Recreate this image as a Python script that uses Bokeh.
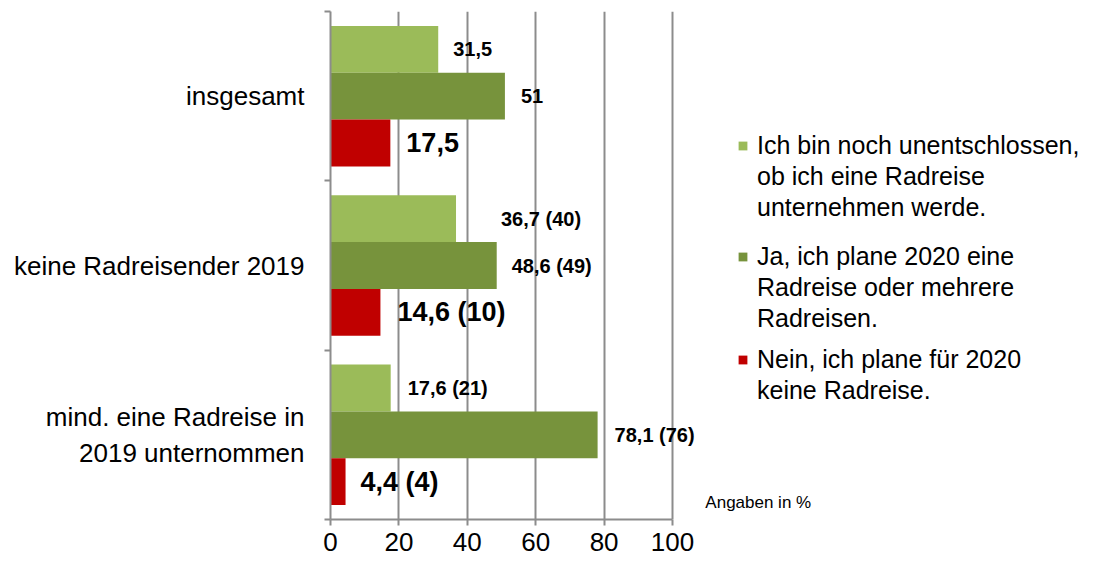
from bokeh.plotting import figure
from bokeh.models import (Range1d, LinearAxis, FixedTicker,
                          Legend, LegendItem, ColumnDataSource, Label, LabelSet)
from bokeh.embed import file_html
from bokeh.resources import INLINE
from bokeh.core.properties import value

# ---------------- data ----------------
categories = ["insgesamt", "keine Radreisender 2019", "mind. eine Radreise in\n2019 unternommen"]
unentschlossen = [31.5, 36.7, 17.6]
ja = [51.0, 48.6, 78.1]
nein = [17.5, 14.6, 4.4]
lbl_unentschlossen = ["31,5", "36,7 (40)", "17,6 (21)"]
lbl_ja = ["51", "48,6 (49)", "78,1 (76)"]
lbl_nein = ["17,5", "14,6 (10)", "4,4 (4)"]
series_names = ["Ich bin noch unentschlossen,\nob ich eine Radreise\nunternehmen werde.",
                "Ja, ich plane 2020 eine\nRadreise oder mehrere\nRadreisen.",
                "Nein, ich plane für 2020\nkeine Radreise."]
x_ticks = [0, 20, 40, 60, 80, 100]
note = "Angaben in %"

# ---------------- styles ----------------
colors = ["#9BBB59", "#77933C", "#C00000"]
GRID = "#8c8c8c"
FONT = "Liberation Sans"
BW = 0.2765
offsets = [BW, 0.0, -BW]
label_dx = [[15, 45, 17], [16, 15, 17], [16, 17, 15]]
label_sizes = ["20px", "20px", "27px"]
legend_pos = [(407, 297), (407, 186), (407, 114)]

W, H = 1100, 561
LEFT, TOP, BOTTOM = 330, 11, 42
AXIS_PX = 342            # pixels for 0..100 on the value axis
x_end = 100 * (W - LEFT) / AXIS_PX

n = len(categories)
centers = [n - 0.5 - i for i in range(n)]          # category slots, top to bottom
bounds = list(range(n + 1))

p = figure(width=W, height=H, output_backend="svg", toolbar_location=None,
           x_range=Range1d(0, x_end), y_range=Range1d(0, n),
           y_axis_location=None, min_border_left=LEFT, min_border_right=0,
           min_border_top=TOP, min_border_bottom=BOTTOM)
p.outline_line_color = None
p.background_fill_color = "white"

# x axis
xa = p.xaxis[0]
xa.ticker = FixedTicker(ticks=x_ticks)
xa.bounds = (x_ticks[0], x_ticks[-1])
xa.major_label_text_font = FONT
xa.major_label_text_font_size = "26px"
xa.major_label_text_color = "black"
xa.axis_line_color = GRID
xa.axis_line_width = 2
xa.major_tick_line_color = GRID
xa.major_tick_line_width = 2
xa.major_tick_out = 6
xa.major_tick_in = 0
xa.minor_tick_line_color = None
xa.major_label_standoff = 7

p.xgrid.ticker = FixedTicker(ticks=x_ticks[1:])
p.xgrid.grid_line_color = GRID
p.xgrid.grid_line_width = 2
p.ygrid.visible = False

# left axis: boundary ticks
tick_axis = LinearAxis(ticker=FixedTicker(ticks=bounds),
                       major_label_overrides={b: "" for b in bounds}, major_label_standoff=0,
                       major_tick_out=6, major_tick_in=0, major_tick_line_color=GRID,
                       major_tick_line_width=2, minor_tick_line_color=None,
                       axis_line_color=GRID, axis_line_width=2)
p.add_layout(tick_axis, "left")
cat_axis = LinearAxis(ticker=FixedTicker(ticks=centers),
                      major_label_overrides={c: name for c, name in zip(centers, categories)},
                      axis_line_color=None, major_tick_line_color=None,
                      minor_tick_line_color=None, major_label_standoff=14,
                      major_label_text_font=FONT, major_label_text_font_size="26px",
                      major_label_text_color="black")
p.add_layout(cat_axis, "left")

# invisible renderer for legend continuation lines
blank = p.hbar(y=[], left=[], right=[], height=BW, fill_alpha=0, line_alpha=0)

values = [unentschlossen, ja, nein]
labels = [lbl_unentschlossen, lbl_ja, lbl_nein]
for i in range(3):
    ys = [c + offsets[i] for c in centers]
    src = ColumnDataSource(dict(y=ys, val=values[i], lbl=labels[i], dx=label_dx[i]))
    r = p.hbar(y="y", left=0, right="val", height=BW,
               fill_color=colors[i], line_color=None, source=src)
    ls = LabelSet(x="val", y="y", text="lbl",
                  x_offset="dx", source=src, text_font=value(FONT), text_font_size=value(label_sizes[i]),
                  text_font_style="bold", text_baseline="middle", text_align="left",
                  text_color="black")
    p.add_layout(ls)

    lines = series_names[i].split("\n")
    its = [LegendItem(label=lines[0], renderers=[r])]
    its += [LegendItem(label=ln, renderers=[blank]) for ln in lines[1:]]
    leg = Legend(items=its, location=legend_pos[i], orientation="vertical",
                 label_text_font=FONT, label_text_font_size="25px", label_text_color="black",
                 glyph_width=11, glyph_height=11, label_standoff=9, spacing=2,
                 padding=0, margin=0, background_fill_alpha=0, border_line_color=None)
    p.add_layout(leg, "center")

p.add_layout(Label(x=109.6, y=0.1, text=note, text_font=FONT,
                   text_font_size="17px", text_baseline="middle", text_color="black"))

open("out.html", "w").write(file_html(p, INLINE))
